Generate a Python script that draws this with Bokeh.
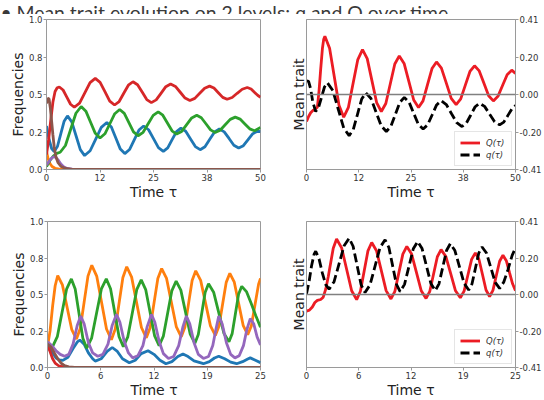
from bokeh.plotting import figure
from bokeh.layouts import row, column
from bokeh.models import FixedTicker, LinearAxis, Span, Label, Legend, LegendItem, Range1d
from bokeh.embed import file_html
from bokeh.resources import INLINE

# ---------------- data ----------------
TOP_XTICKS = [0, 12.5, 25, 37.5, 50]
TOP_XLABELS = ["0", "12", "25", "38", "50"]
BOT_XTICKS = [0, 6.25, 12.5, 18.75, 25]
BOT_XLABELS = ["0", "6", "12", "19", "25"]
FREQ_YTICKS = [0, 0.25, 0.5, 0.75, 1.0]
FREQ_YLABELS = ["0.0", "0.2", "0.5", "0.8", "1.0"]
TRAIT_YTICKS = [-0.41, -0.205, 0, 0.205, 0.41]
TRAIT_YLABELS = ["-0.41", "-0.20", "0.00", "0.20", "0.41"]

# slide title pieces: (text, style, left x in px)
TITLE_PIECES = [("•", "normal", 0), ("Mean trait evolution on 2 levels: q and Q over time", "normal", 16)]

# top-left: frequencies, 0..50
TL_BLUE = [(0,0.29),(0.6,0.2),(1.2,0.14),(1.8,0.12),(2.575,0.155),(3.35,0.239),(4.125,0.322),(4.9,0.357),(5.9,0.318),(6.9,0.225),(7.9,0.132),(8.9,0.093),(10.2,0.125),(11.5,0.203),(12.8,0.281),(14.1,0.313),(15.15,0.283),(16.2,0.21),(17.25,0.136),(18.3,0.106),(19.4,0.133),(20.5,0.198),(21.6,0.263),(22.7,0.29),(23.85,0.265),(25.0,0.206),(26.15,0.146),(27.3,0.121),(28.325,0.144),(29.35,0.199),(30.375,0.253),(31.4,0.276),(32.525,0.255),(33.65,0.204),(34.775,0.153),(35.9,0.132),(37.025,0.152),(38.15,0.201),(39.275,0.25),(40.4,0.27),(41.525,0.251),(42.65,0.207),(43.775,0.162),(44.9,0.143),(46.0,0.159),(47.1,0.199),(48.2,0.239),(49.3,0.255),(50,0.252)]
TL_ORANGE = [(0,0.12),(0.4,0.07),(0.8,0.04),(1.3,0.02),(2.0,0.008),(3.0,0.002),(5,0),(50,0)]
TL_GREEN = [(0,0.02),(0.8,0.06),(1.6,0.09),(2.4,0.108),(3.2,0.115),(4.425,0.16),(5.65,0.268),(6.875,0.375),(8.1,0.42),(9.2,0.389),(10.3,0.315),(11.4,0.241),(12.5,0.21),(13.65,0.238),(14.8,0.305),(15.95,0.372),(17.1,0.40),(18.175,0.374),(19.25,0.313),(20.325,0.251),(21.4,0.225),(22.575,0.248),(23.75,0.305),(24.925,0.361),(26.1,0.384),(27.175,0.362),(28.25,0.31),(29.325,0.258),(30.4,0.236),(31.575,0.254),(32.75,0.299),(33.925,0.344),(35.1,0.362),(36.175,0.345),(37.25,0.305),(38.325,0.264),(39.4,0.247),(40.575,0.262),(41.75,0.298),(42.925,0.334),(44.1,0.349),(45.225,0.336),(46.35,0.304),(47.475,0.271),(48.6,0.258),(50,0.28)]
TL_RED = [(0,0.10),(0.5,0.2),(1.0,0.33),(1.5,0.45),(2.0,0.52),(2.5,0.545),(3.0,0.55),(3.875,0.53),(4.75,0.483),(5.625,0.435),(6.5,0.415),(7.725,0.443),(8.95,0.511),(10.175,0.579),(11.4,0.607),(12.525,0.581),(13.65,0.519),(14.775,0.456),(15.9,0.43),(16.975,0.453),(18.05,0.508),(19.125,0.562),(20.2,0.585),(21.275,0.565),(22.35,0.516),(23.425,0.466),(24.5,0.446),(25.625,0.464),(26.75,0.508),(27.875,0.552),(29.0,0.57),(30.125,0.554),(31.25,0.515),(32.375,0.476),(33.5,0.46),(34.65,0.474),(35.8,0.508),(36.95,0.542),(38.1,0.556),(39.125,0.543),(40.15,0.512),(41.175,0.481),(42.2,0.468),(43.375,0.48),(44.55,0.508),(45.725,0.535),(46.9,0.547),(47.8,0.537),(48.7,0.512),(49.4,0.493),(50,0.482)]
TL_PURPLE = [(0,0.03),(0.5,0.05),(1.0,0.07),(1.6,0.085),(2.2,0.08),(2.8,0.06),(3.4,0.035),(4.0,0.018),(4.8,0.007),(6.0,0.002),(8,0),(50,0)]
TL_BROWN = [(0,0.44),(0.3,0.475),(0.6,0.47),(0.9,0.41),(1.2,0.32),(1.5,0.23),(1.8,0.15),(2.2,0.085),(2.7,0.045),(3.4,0.02),(4.5,0.007),(6,0.001),(8,0),(50,0)]

# top-right: mean traits, 0..50
TR_BIGQ = [(0,-0.148),(0.5,-0.12),(1.0,-0.10),(1.5,-0.088),(2.0,-0.082),(2.6,-0.07),(3.0,0.02),(3.4,0.14),(3.8,0.25),(4.1,0.3),(4.4,0.318),(5.525,0.253),(6.65,0.097),(7.775,-0.059),(8.9,-0.124),(10.025,-0.07),(11.15,0.061),(12.275,0.191),(13.4,0.245),(14.525,0.196),(15.65,0.076),(16.775,-0.044),(17.9,-0.093),(18.975,-0.049),(20.05,0.059),(21.125,0.167),(22.2,0.211),(23.35,0.17),(24.5,0.07),(25.65,-0.03),(26.8,-0.071),(27.875,-0.035),(28.95,0.054),(30.025,0.142),(31.1,0.178),(32.275,0.144),(33.45,0.062),(34.625,-0.021),(35.8,-0.055),(36.9,-0.024),(38.0,0.051),(39.1,0.126),(40.2,0.157),(41.325,0.129),(42.45,0.061),(43.575,-0.007),(44.7,-0.035),(45.8,-0.01),(46.9,0.049),(48.0,0.108),(49.1,0.133),(50,0.115)]
TR_SMALLQ = [(0,0.075),(0.5,0.072),(1.0,0.03),(1.5,-0.04),(2.2,-0.093),(2.9,-0.07),(3.6,-0.015),(4.3,0.041),(5.0,0.064),(6.3,0.022),(7.6,-0.081),(8.9,-0.183),(10.2,-0.225),(11.2,-0.191),(12.2,-0.108),(13.2,-0.025),(14.2,0.009),(15.425,-0.022),(16.65,-0.097),(17.875,-0.171),(19.1,-0.202),(20.175,-0.175),(21.25,-0.109),(22.325,-0.043),(23.4,-0.016),(24.525,-0.041),(25.65,-0.103),(26.775,-0.164),(27.9,-0.189),(28.975,-0.166),(30.05,-0.112),(31.125,-0.057),(32.2,-0.034),(33.45,-0.055),(34.7,-0.105),(35.95,-0.154),(37.2,-0.175),(38.25,-0.156),(39.3,-0.112),(40.35,-0.067),(41.4,-0.048),(42.6,-0.065),(43.8,-0.107),(45.0,-0.149),(46.2,-0.166),(47.2,-0.151),(48.3,-0.11),(49.3,-0.073),(50,-0.06)]

# bottom-left: frequencies, 0..25
BL_BLUE = [(0,0.166),(0.5,0.11),(1.0,0.065),(1.4,0.052),(1.8,0.049),(2.4,0.07),(3.0,0.13),(3.5,0.175),(3.8,0.188),(4.3,0.16),(4.8,0.1),(5.3,0.06),(5.6,0.044),(6.3,0.06),(7.0,0.11),(7.6,0.137),(8.2,0.11),(8.8,0.06),(9.6,0.033),(10.3,0.05),(11.0,0.095),(11.8,0.115),(12.5,0.09),(13.2,0.05),(13.9,0.026),(14.6,0.04),(15.3,0.075),(15.9,0.093),(16.5,0.075),(17.2,0.045),(18.3,0.026),(19.0,0.04),(19.6,0.065),(20.1,0.077),(20.8,0.06),(21.5,0.037),(22.2,0.026),(22.9,0.04),(23.5,0.058),(23.8,0.066),(24.4,0.05),(25,0.033)]
BL_ORANGE = [(0,0.143),(0.3,0.25),(0.6,0.42),(0.9,0.56),(1.2,0.63),(1.75,0.566),(2.3,0.413),(2.85,0.259),(3.4,0.195),(3.85,0.269),(4.3,0.448),(4.75,0.626),(5.2,0.70),(5.775,0.626),(6.35,0.445),(6.925,0.264),(7.5,0.19),(7.95,0.263),(8.4,0.44),(8.85,0.617),(9.3,0.69),(9.875,0.619),(10.45,0.447),(11.025,0.274),(11.6,0.203),(12.05,0.272),(12.5,0.441),(12.95,0.609),(13.4,0.678),(13.975,0.61),(14.55,0.444),(15.125,0.278),(15.7,0.21),(16.125,0.276),(16.55,0.436),(16.975,0.596),(17.4,0.662),(17.975,0.597),(18.55,0.441),(19.125,0.285),(19.7,0.22),(20.125,0.282),(20.55,0.433),(20.975,0.583),(21.4,0.645),(21.925,0.584),(22.45,0.435),(22.975,0.286),(23.5,0.225),(23.925,0.284),(24.35,0.428),(24.775,0.571),(25,0.61)]
BL_GREEN = [(0,0.155),(0.3,0.145),(0.6,0.143),(1.15,0.211),(1.7,0.375),(2.25,0.539),(2.8,0.607),(3.25,0.538),(3.7,0.37),(4.15,0.201),(4.6,0.132),(5.175,0.201),(5.75,0.37),(6.325,0.538),(6.9,0.607),(7.4,0.539),(7.9,0.375),(8.4,0.211),(8.9,0.143),(9.425,0.21),(9.95,0.372),(10.475,0.533),(11.0,0.60),(11.525,0.534),(12.05,0.375),(12.575,0.216),(13.1,0.15),(13.6,0.215),(14.1,0.371),(14.6,0.527),(15.1,0.592),(15.65,0.53),(16.2,0.379),(16.75,0.228),(17.3,0.166),(17.7,0.226),(18.1,0.37),(18.5,0.514),(18.9,0.574),(19.5,0.516),(20.1,0.376),(20.7,0.235),(21.3,0.177),(21.675,0.232),(22.05,0.367),(22.425,0.501),(22.8,0.556),(23.35,0.52),(23.9,0.44),(24.45,0.355),(25,0.276)]
BL_RED = [(0,0.15),(0.3,0.11),(0.6,0.06),(0.9,0.03),(1.3,0.012),(1.8,0.004),(2.5,0),(25,0)]
BL_PURPLE = [(0,0.177),(0.5,0.15),(1.0,0.115),(1.5,0.09),(2.0,0.077),(2.5,0.09),(3.0,0.16),(3.5,0.29),(3.9,0.353),(4.3,0.3),(4.8,0.17),(5.3,0.1),(5.9,0.077),(6.5,0.09),(7.1,0.16),(7.6,0.29),(8.1,0.364),(8.5,0.31),(9.0,0.18),(9.5,0.1),(10.0,0.066),(10.6,0.08),(11.2,0.15),(11.7,0.28),(12.2,0.364),(12.6,0.31),(13.1,0.18),(13.6,0.095),(14.2,0.062),(14.8,0.075),(15.4,0.15),(15.9,0.28),(16.3,0.353),(16.7,0.3),(17.2,0.17),(17.7,0.09),(18.3,0.062),(18.9,0.075),(19.4,0.15),(19.8,0.27),(20.1,0.353),(20.5,0.3),(21.0,0.17),(21.5,0.09),(22.0,0.066),(22.5,0.08),(23.0,0.15),(23.4,0.26),(23.8,0.335),(24.2,0.3),(24.6,0.21),(25,0.155)]
BL_BROWN = [(0,0.16),(0.4,0.14),(0.8,0.1),(1.2,0.06),(1.6,0.03),(2.0,0.013),(2.5,0.005),(3.2,0.001),(4,0),(25,0)]

# bottom-right: mean traits, 0..25
BR_BIGQ = [(0,-0.093),(0.35,-0.088),(0.7,-0.07),(1.0,-0.045),(1.3,-0.033),(1.7,-0.028),(2.0,-0.015),(2.3,0.03),(2.6,0.1),(2.9,0.18),(3.2,0.26),(3.6,0.312),(4.2,0.262),(4.8,0.142),(5.4,0.021),(6.0,-0.029),(6.45,0.018),(6.9,0.132),(7.35,0.245),(7.8,0.292),(8.375,0.246),(8.95,0.134),(9.525,0.022),(10.1,-0.025),(10.575,0.018),(11.05,0.123),(11.525,0.227),(12.0,0.27),(12.575,0.227),(13.15,0.124),(13.725,0.021),(14.3,-0.022),(14.75,0.018),(15.2,0.115),(15.65,0.212),(16.1,0.252),(16.675,0.213),(17.25,0.117),(17.825,0.021),(18.4,-0.018),(18.85,0.019),(19.3,0.108),(19.75,0.197),(20.2,0.234),(20.625,0.198),(21.05,0.112),(21.475,0.025),(21.9,-0.011),(22.3,0.023),(22.7,0.105),(23.1,0.187),(23.5,0.221),(23.9,0.19),(24.3,0.12),(24.65,0.06),(25,0.022)]
BR_SMALLQ = [(0,0.004),(0.3,0.07),(0.6,0.16),(0.9,0.225),(1.1,0.243),(1.5,0.2),(1.9,0.12),(2.3,0.055),(2.7,0.03),(3.3,0.072),(3.9,0.173),(4.5,0.274),(5.1,0.316),(5.575,0.271),(6.05,0.164),(6.525,0.056),(7.0,0.011),(7.6,0.054),(8.2,0.159),(8.8,0.264),(9.4,0.307),(9.85,0.265),(10.3,0.162),(10.75,0.058),(11.2,0.016),(11.725,0.057),(12.25,0.157),(12.775,0.257),(13.3,0.298),(13.825,0.258),(14.35,0.16),(14.875,0.062),(15.4,0.022),(15.85,0.06),(16.3,0.154),(16.75,0.247),(17.2,0.285),(17.75,0.247),(18.3,0.155),(18.85,0.063),(19.4,0.025),(19.8,0.06),(20.2,0.146),(20.6,0.232),(21.0,0.267),(21.525,0.233),(22.05,0.151),(22.575,0.068),(23.1,0.034),(23.6,0.07),(24.1,0.14),(24.6,0.22),(25,0.261)]

C = ["#1f77b4", "#ff7f0e", "#2ca02c", "#d62728", "#9467bd", "#8c564b"]
RED_Q = "#ec1c24"

FONT = "DejaVu Sans"
AX = "#9a9a9a"
TXT = "#333333"
TITLE_FONT = "Lato"
TITLE_SIZE = "19.4px"
TITLE_COLOR = "#3a3a3a"
STRIP_H = 14


def xs(pts):
    return [a for a, b in pts]


def ys(pts):
    return [b for a, b in pts]


def make_fig(width, height, xr, yr, borders, right_axis=False):
    l, r, t, b = borders
    p = figure(width=width, height=height, x_range=Range1d(*xr), y_range=Range1d(*yr),
               output_backend="svg", toolbar_location=None,
               y_axis_location="right" if right_axis else "left",
               min_border_left=l, min_border_right=r, min_border_top=t, min_border_bottom=b)
    p.xgrid.grid_line_color = None
    p.ygrid.grid_line_color = None
    p.outline_line_color = AX
    p.outline_line_width = 1
    p.background_fill_color = "white"
    p.border_fill_color = "white"
    return p


def style_axis(ax, ticks, labels, label):
    ax.ticker = FixedTicker(ticks=ticks, minor_ticks=[])
    ax.major_label_overrides = dict(zip(ticks, labels))
    ax.axis_label = label
    ax.axis_label_text_font = FONT
    ax.axis_label_text_font_size = "14px"
    ax.axis_label_text_font_style = "normal"
    ax.axis_label_text_color = "#222222"
    ax.axis_label_standoff = 0
    ax.major_label_text_font = FONT
    ax.major_label_text_font_size = "8.5px"
    ax.major_label_text_color = TXT
    ax.major_label_standoff = 1
    ax.major_tick_out = 3
    ax.major_tick_in = 0
    ax.major_tick_line_color = AX
    ax.minor_tick_line_color = None
    ax.axis_line_color = AX


def freq_panel(width, height, xmax, xticks, xlabels, borders, curves):
    p = make_fig(width, height, (0, xmax), (0, 1), borders)
    style_axis(p.xaxis[0], xticks, xlabels, "Time τ")
    style_axis(p.yaxis[0], FREQ_YTICKS, FREQ_YLABELS, "Frequencies")
    for pts, col in zip(curves, C):
        p.line(xs(pts), ys(pts), line_color=col, line_width=2.8)
    return p


def trait_panel(width, height, xmax, xticks, xlabels, borders, bigq, smallq):
    p = make_fig(width, height, (0, xmax), (-0.41, 0.41), borders, right_axis=True)
    style_axis(p.xaxis[0], xticks, xlabels, "Time τ")
    style_axis(p.yaxis[0], TRAIT_YTICKS, TRAIT_YLABELS, "")
    left = LinearAxis(ticker=FixedTicker(ticks=[], minor_ticks=[]), axis_label="Mean trait",
                      axis_label_text_font=FONT, axis_label_text_font_size="14px",
                      axis_label_text_font_style="normal", axis_label_text_color="#222222",
                      axis_label_standoff=0, axis_line_color=AX,
                      major_tick_line_color=None, minor_tick_line_color=None)
    p.add_layout(left, "left")
    p.add_layout(Span(location=0, dimension="width", line_color="#808080", line_width=1.5))
    r1 = p.line(xs(bigq), ys(bigq), line_color=RED_Q, line_width=2.8)
    r2 = p.line(xs(smallq), ys(smallq), line_color="black", line_width=2.8, line_dash="9 4")
    leg = Legend(items=[LegendItem(label="Q(τ)", renderers=[r1]), LegendItem(label="q(τ)", renderers=[r2])],
                 location="bottom_right", label_text_font=FONT, label_text_font_style="italic",
                 label_text_font_size="8.5px", label_text_color=TXT, glyph_width=20, glyph_height=11,
                 label_height=11, label_standoff=6, padding=5, spacing=1, margin=3,
                 border_line_color="#cccccc", border_line_width=1, background_fill_alpha=0.85)
    p.add_layout(leg)
    return p


# title strip across the full width (pixel coordinates, y measured up from the strip bottom)
title = figure(width=544, height=STRIP_H, x_range=Range1d(0, 544), y_range=Range1d(0, STRIP_H),
               output_backend="svg", toolbar_location=None, x_axis_location=None, y_axis_location=None,
               min_border_left=0, min_border_right=0, min_border_top=0, min_border_bottom=0)
title.xgrid.grid_line_color = None
title.ygrid.grid_line_color = None
title.outline_line_color = None
for txt, sty, x0 in TITLE_PIECES:
    title.add_layout(Label(x=x0, y=2, text=txt, text_font=TITLE_FONT, text_font_style=sty,
                           text_font_size=TITLE_SIZE, text_color=TITLE_COLOR, text_baseline="alphabetic"))

# left column 0..287, right column 287..544; top row 14..203, bottom row 203..400
tl = freq_panel(287, 203 - STRIP_H, 50, TOP_XTICKS, TOP_XLABELS, (46, 27, 19 - STRIP_H, 34),
                [TL_BLUE, TL_ORANGE, TL_GREEN, TL_RED, TL_PURPLE, TL_BROWN])
tr = trait_panel(257, 203 - STRIP_H, 50, TOP_XTICKS, TOP_XLABELS, (16, 28, 19 - STRIP_H, 33), TR_BIGQ, TR_SMALLQ)
bl = freq_panel(287, 197, 25, BOT_XTICKS, BOT_XLABELS, (47, 27, 18, 30),
                [BL_BLUE, BL_ORANGE, BL_GREEN, BL_RED, BL_PURPLE, BL_BROWN])
br = trait_panel(257, 197, 25, BOT_XTICKS, BOT_XLABELS, (16, 29, 18, 30), BR_BIGQ, BR_SMALLQ)

layout = column(title, row(tl, tr), row(bl, br))
open("out.html", "w").write(file_html(layout, INLINE))
